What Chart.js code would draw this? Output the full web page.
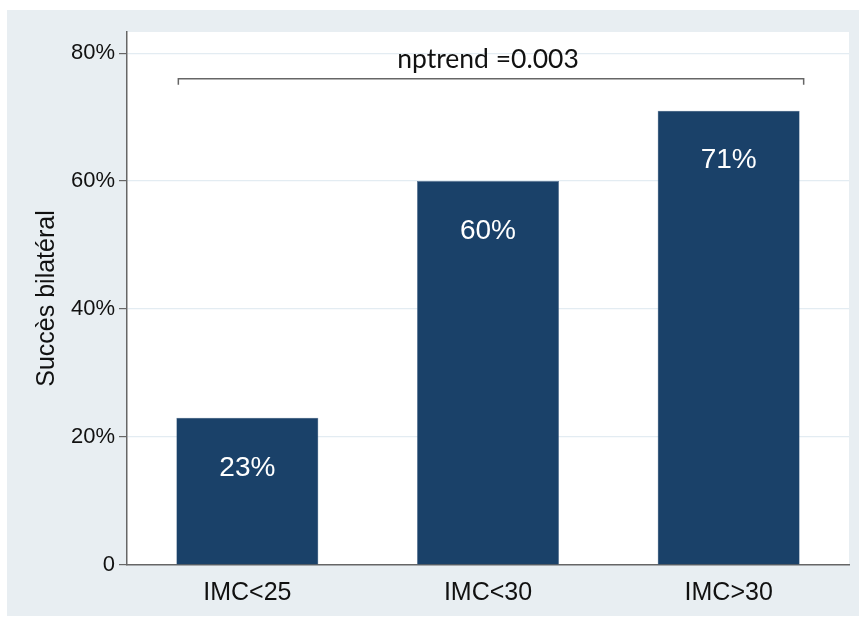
<!DOCTYPE html>
<html>
<head>
<meta charset="utf-8">
<script src="https://cdn.jsdelivr.net/npm/chart.js@4.4.1/dist/chart.umd.min.js"></script>
<style>
  html, body { margin: 0; padding: 0; background: #ffffff; }
  #wrap { width: 859px; height: 617px; }
</style>
</head>
<body>
<div id="wrap"><canvas id="myChart" width="859" height="617"></canvas></div>
<script>
const categories = ['IMC<25', 'IMC<30', 'IMC>30'];
const successValues = [23, 60, 71];
const tickValues = [0, 20, 40, 60, 80];
const tickLabels = ['0', '20%', '40%', '60%', '80%'];
const trendText = 'nptrend =0.003';
const trendLevel = 76;      // bracket height, in % units
const trendTextLevel = 79;  // text height, in % units

const barColor = '#1a4169';
const panelColor = '#e8eef2';

// light panel behind the plot, white plot region
const panelBg = {
    id: 'panelBg',
    beforeDraw(chart) {
        const c = chart.ctx, a = chart.chartArea;
        c.save();
        c.fillStyle = panelColor;
        c.fillRect(7, 10, chart.width - 7, chart.height - 11);
        c.fillStyle = '#ffffff';
        c.fillRect(a.left, a.top, a.right - a.left, a.bottom - a.top);
        c.restore();
    }
};

// value labels inside the bars + trend bracket
const annotations = {
    id: 'annotations',
    afterDatasetsDraw(chart) {
        const c = chart.ctx;
        const y = chart.scales.y;
        const bars = chart.getDatasetMeta(0).data;
        c.save();
        c.fillStyle = '#ffffff';
        c.font = '28px "Liberation Sans", Arial, sans-serif';
        c.textAlign = 'center';
        c.textBaseline = 'middle';
        bars.forEach(function(bar, i) {
            c.fillText(successValues[i] + '%', bar.x, bar.y + 50);
        });

        const x0 = bars[0].x - bars[0].width / 2 + 2;
        const x1 = bars[2].x + bars[2].width / 2 + 4;
        const by = y.getPixelForValue(trendLevel);
        c.strokeStyle = '#666666';
        c.lineWidth = 1.5;
        c.beginPath();
        c.moveTo(x0, by + 6);
        c.lineTo(x0, by);
        c.lineTo(x1, by);
        c.lineTo(x1, by + 6);
        c.stroke();

        c.fillStyle = '#111111';
        c.font = '26.5px Lato, "Open Sans", sans-serif';
        c.fillText(trendText, (x0 + x1) / 2 - 3, y.getPixelForValue(trendTextLevel));
        c.restore();
    }
};

const ctx = document.getElementById('myChart');
new Chart(ctx, {
    type: 'bar',
    data: {
        labels: categories,
        datasets: [{
            data: successValues,
            backgroundColor: barColor,
            borderColor: '#5a7594',
            borderWidth: 0.5,
            barPercentage: 0.59,
            categoryPercentage: 1
        }]
    },
    plugins: [panelBg, annotations],
    options: {
        responsive: false,
        animation: false,
        layout: { padding: { left: 7, top: 32, right: 10, bottom: 12 } },
        plugins: {
            legend: { display: false },
            tooltip: { enabled: false }
        },
        scales: {
            x: {
                grid: { display: false },
                border: { color: '#666666', width: 1.5 },
                ticks: {
                    color: '#111111',
                    padding: 5,
                    font: { family: '"Liberation Sans", Arial, sans-serif', size: 25 }
                },
                afterFit(scale) { scale.height = 40; }
            },
            y: {
                min: 0,
                max: 83.3,
                afterBuildTicks(scale) {
                    scale.ticks = tickValues.map(v => ({ value: v }));
                },
                afterFit(scale) { scale.width = 120; },
                grid: {
                    color: '#e3ecf2',
                    lineWidth: 1.2,
                    tickColor: '#666666',
                    tickLength: 8
                },
                border: { color: '#666666', width: 1.5 },
                ticks: {
                    color: '#111111',
                    padding: 4,
                    font: { family: '"Liberation Sans", Arial, sans-serif', size: 22 },
                    callback: (value) => tickLabels[tickValues.indexOf(value)]
                },
                title: {
                    display: true,
                    text: 'Succès bilatéral',
                    color: '#111111',
                    padding: { top: 25 },
                    font: { family: '"Liberation Sans", Arial, sans-serif', size: 25 }
                }
            }
        }
    }
});
</script>
</body>
</html>
